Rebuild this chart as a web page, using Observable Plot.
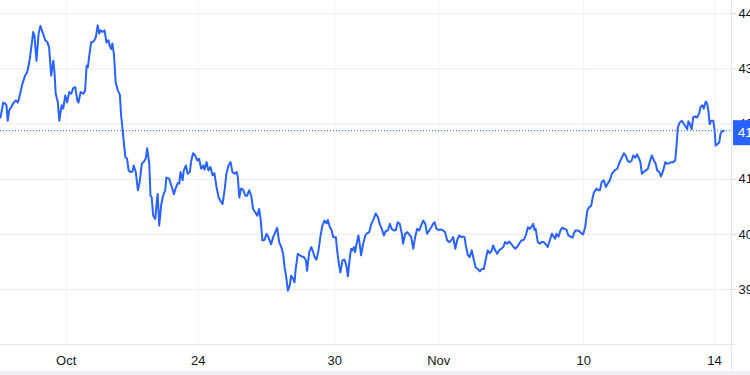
<!DOCTYPE html>
<html><head><meta charset="utf-8">
<script src="https://cdn.jsdelivr.net/npm/d3@7"></script>
<script src="https://cdn.jsdelivr.net/npm/@observablehq/plot@0.6"></script>
<style>
html,body{margin:0;padding:0;background:#eef0f3;overflow:hidden;}
#chart{width:750px;height:371px;background:#fff;}
#chart svg{display:block;}
</style></head><body><div id="chart"></div>
<script>
// [bar index, price]
const series = [
[0,42.12],[0.9,42.39],[1.6,42.37],[2,42.34],[2.4,42.06],[2.9,42.25],[3.6,42.31],[4.4,42.39],[5.1,42.43],[5.8,42.39],
[6.4,42.52],[7.3,42.73],[8.2,42.88],[8.9,42.94],[9.6,43.12],[10.2,43.36],[10.9,43.67],[11.3,43.61],[12,43.15],[12.7,43.64],
[13.3,43.78],[14,43.67],[14.9,43.52],[15.6,43.49],[16.2,43.39],[16.9,42.88],[17.6,43.15],[18,42.94],[18.4,42.55],[19.1,42.40],
[19.6,42.06],[20,42.22],[20.4,42.34],[20.9,42.28],[21.6,42.52],[22.2,42.39],[22.9,42.58],[23.6,42.55],[24.2,42.65],[24.9,42.67],
[25.6,42.43],[26,42.39],[26.7,42.58],[27.6,42.55],[28.2,42.61],[28.7,43.06],[29.1,43.03],[29.6,43.24],[30.2,43.48],[31.1,43.50],
[31.8,43.58],[32.4,43.79],[32.9,43.64],[33.3,43.70],[34,43.67],[34.7,43.70],[35.3,43.48],[36,43.52],[36.4,43.42],[36.9,43.36],
[37.3,43.46],[37.8,43.27],[38.4,42.76],[39.1,42.61],[39.8,42.53],[40.2,42.16],[40.9,41.79],[41.6,41.40],[42.2,41.37],[42.7,41.16],
[43.3,41.13],[44,41.14],[44.4,41.25],[45.1,41.13],[45.8,40.80],[46.4,40.95],[47.1,41.28],[47.8,41.32],[48.4,41.37],[48.9,41.56],
[49.6,41.28],[50,40.70],[50.4,40.67],[50.9,40.34],[51.6,40.28],[52,40.55],[52.4,40.73],[52.9,40.16],[53.6,40.55],[54.2,40.70],
[54.9,40.80],[55.3,41.03],[56.2,41.01],[57.1,40.86],[57.8,40.73],[58.4,40.84],[59.1,40.93],[59.6,40.92],[60,41.13],[60.7,40.98],
[61.1,41.16],[61.8,41.25],[62.4,41.10],[63.1,41.13],[63.6,41.34],[64.2,41.47],[64.9,41.43],[65.6,41.34],[66.2,41.37],[66.9,41.19],
[67.6,41.25],[68,41.17],[68.7,41.31],[69.3,41.16],[70,41.22],[70.7,41.07],[71.3,41.11],[72,40.86],[72.7,40.67],[73.3,40.61],
[74,40.55],[74.7,40.80],[75.3,41.10],[76,41.25],[76.7,41.31],[77.3,41.13],[78,41.10],[78.7,41.13],[79.1,41.04],[79.6,40.67],
[80.2,40.83],[80.9,40.81],[81.6,40.70],[82.2,40.70],[82.9,40.80],[83.6,40.70],[84.2,40.46],[84.9,40.40],[85.6,40.34],[86.2,40.46],
[86.7,40.28],[87.3,39.89],[88,39.90],[88.7,40.01],[89.3,39.95],[90.2,39.82],[90.9,39.95],[91.6,40.04],[92.2,40.12],[92.9,39.86],
[93.6,39.77],[94.2,39.65],[94.7,39.40],[95.1,39.28],[95.8,38.98],[96.4,39.07],[96.9,39.25],[97.6,39.19],[98,39.13],[98.4,39.37],
[99.1,39.65],[99.8,39.62],[100.4,39.60],[101.1,39.59],[101.8,39.53],[102.2,39.34],[102.9,39.68],[103.6,39.77],[104.2,39.68],[104.7,39.59],
[105.3,39.54],[106,39.71],[106.7,39.98],[107.3,40.16],[108,40.25],[108.7,40.20],[109.1,40.26],[109.8,40.13],[110.4,40.07],[110.9,39.95],
[111.8,39.95],[112.2,39.71],[112.9,39.43],[113.3,39.31],[114,39.53],[114.7,39.54],[115.3,39.43],[115.8,39.24],[116.4,39.56],[116.9,39.74],
[117.3,39.71],[117.8,39.77],[118.2,39.68],[118.7,39.83],[119.3,39.98],[119.8,39.80],[120.2,39.62],[120.9,39.83],[121.6,39.98],[122.2,40.02],
[122.9,40.04],[123.6,40.19],[124.4,40.28],[125.1,40.38],[125.8,40.31],[126.4,40.19],[127.1,40.10],[127.8,39.98],[128.4,40.06],[129.1,40.07],
[129.8,40.19],[130.4,40.10],[131.1,40.07],[131.8,40.08],[132.4,40.22],[133.1,40.19],[133.8,40.01],[134.2,39.83],[134.9,40.01],[135.6,40.04],
[136.2,40.00],[136.9,39.95],[137.6,39.74],[138.2,39.95],[138.9,40.10],[139.6,40.07],[140.2,40.16],[140.9,40.25],[141.6,40.19],[142.2,40.01],
[142.9,40.07],[143.6,40.13],[144.2,40.19],[144.7,40.22],[145.3,40.10],[146,40.08],[146.7,40.09],[147.6,40.07],[148.2,40.04],[148.9,39.89],
[149.6,39.86],[150.2,39.89],[150.9,39.95],[151.6,39.74],[152.2,39.89],[152.9,39.98],[153.6,39.95],[154,39.96],[154.7,39.95],[155.1,39.80],
[155.8,39.62],[156.4,39.59],[157.1,39.71],[157.8,39.53],[158.4,39.40],[159.1,39.37],[159.8,39.33],[160.4,39.37],[161.1,39.37],[161.8,39.56],
[162.4,39.71],[163.1,39.66],[163.8,39.71],[164.2,39.80],[164.9,39.71],[165.6,39.65],[166.2,39.71],[166.9,39.74],[167.6,39.77],[168.2,39.86],
[168.9,39.83],[169.6,39.87],[170.2,39.83],[170.9,39.78],[171.6,39.74],[172.2,39.77],[172.9,39.83],[173.6,39.89],[174.4,39.90],[175.1,39.98],
[175.8,40.13],[176.4,40.10],[176.9,40.13],[177.6,40.19],[178,40.08],[178.4,40.10],[179.1,39.86],[179.8,39.83],[180.4,39.86],[181.1,39.86],
[181.8,39.82],[182.4,39.77],[183.1,39.89],[183.8,40.01],[184.4,39.96],[184.9,39.92],[185.3,40.01],[186,39.96],[186.7,40.08],[187.3,40.12],
[188,40.10],[188.7,40.08],[189.3,39.98],[190,39.96],[190.7,39.94],[191.1,40.01],[191.6,40.07],[192.2,40.07],[192.9,40.06],[193.6,40.02],
[194.2,40.00],[194.9,40.13],[195.6,40.43],[196.2,40.49],[196.9,40.52],[197.3,40.64],[197.8,40.76],[198.7,40.83],[199.3,40.80],[199.8,40.80],
[200.4,40.95],[201.1,40.98],[201.8,40.86],[202.4,40.92],[203.1,40.98],[203.8,41.10],[204.7,41.16],[205.6,41.19],[206.4,41.31],[207.1,41.39],
[207.8,41.47],[208.4,41.43],[209.1,41.33],[209.8,41.31],[210.4,41.34],[210.9,41.43],[211.6,41.39],[212.2,41.45],[212.9,41.37],[213.3,41.31],
[213.8,41.10],[214.4,41.13],[215.1,41.16],[215.8,41.19],[216.4,41.31],[217.1,41.43],[217.8,41.34],[218.4,41.28],[218.9,41.16],[219.6,41.13],
[220.2,41.05],[220.9,41.16],[221.6,41.31],[222.2,41.28],[222.9,41.29],[223.6,41.31],[224.2,41.31],[224.9,41.34],[225.3,41.58],[225.8,41.94],
[226.4,42.03],[227.1,42.06],[227.6,42.02],[228.2,41.97],[228.9,41.91],[229.3,42.05],[229.8,42.00],[230.4,41.91],[230.9,42.12],[231.6,42.14],
[232.2,42.12],[232.9,42.19],[233.3,42.31],[234,42.34],[234.4,42.28],[235.1,42.41],[235.6,42.36],[236,42.22],[236.4,42.00],[236.9,42.06],
[237.6,42.06],[238,41.91],[238.4,41.61],[239.1,41.64],[239.6,41.67],[240,41.82],[240.7,41.88],[241.1,41.88]
];
const tickBars = [21.9, 65.9, 111.4, 146.1, 194.4, 238];
const tickLabels = ["Oct", "24", "30", "Nov", "10", "14"];
const priceTicks = [39, 40, 41, 42, 43, 44];
const barDomain = [0, 243.67];
const priceDomain = [38.003, 44.241];

const data = series.map(([bar, price]) => ({bar, price}));
const last = data[data.length - 1].price;
const labelOf = new Map(tickBars.map((b, i) => [b, tickLabels[i]]));
const blue = "#2962ff";

const plot = Plot.plot({
  width: 750, height: 371,
  marginTop: 0, marginLeft: 0, marginRight: 19, marginBottom: 27,
  style: {fontFamily: "'Liberation Sans', Arial, Helvetica, sans-serif", fontSize: "13px", color: "#131722", background: "#ffffff", overflow: "visible"},
  x: {domain: barDomain, axis: null},
  y: {domain: priceDomain, axis: null},
  marks: [
    Plot.gridX(tickBars, {stroke: "#f0f2f5", strokeOpacity: 1, strokeWidth: 1}),
    Plot.gridY(priceTicks, {stroke: "#e9ebee", strokeOpacity: 1, strokeWidth: 1}),
    Plot.ruleX([barDomain[1]], {stroke: "#e3e5e9", strokeWidth: 1, insetBottom: -27}),
    Plot.ruleY([priceDomain[0]], {stroke: "#e3e5e9", strokeWidth: 1, insetRight: -4}),
    Plot.axisX(tickBars, {label: null, tickSize: 0, tickPadding: 11, tickFormat: d => labelOf.get(d), fill: "#131722", fontSize: 13}),
    Plot.axisY(priceTicks, {label: null, anchor: "right", tickSize: 4, tickPadding: 3, stroke: "#d6d9de", fill: "#131722", fontSize: 13, tickFormat: d => String(d)}),
    Plot.ruleY([last], {stroke: blue, strokeWidth: 1, strokeDasharray: "1,2"}),
    Plot.line(data, {x: "bar", y: "price", stroke: blue, strokeWidth: 2, strokeLinejoin: "round"})
  ]
});

const yPix = plot.scale("y").apply(last);
const xEdge = plot.scale("x").apply(barDomain[1]);
const svg = d3.select(plot);
svg.append("rect").attr("x", xEdge + 2).attr("y", yPix - 10).attr("width", 40).attr("height", 25).attr("fill", blue);
svg.append("text").attr("x", xEdge + 7).attr("y", yPix + 2.5).attr("dy", "0.35em")
  .attr("text-anchor", "start").attr("fill", "#fff").style("font-size", "13px").text(last.toFixed(2));
document.getElementById("chart").appendChild(plot);
</script></body></html>
